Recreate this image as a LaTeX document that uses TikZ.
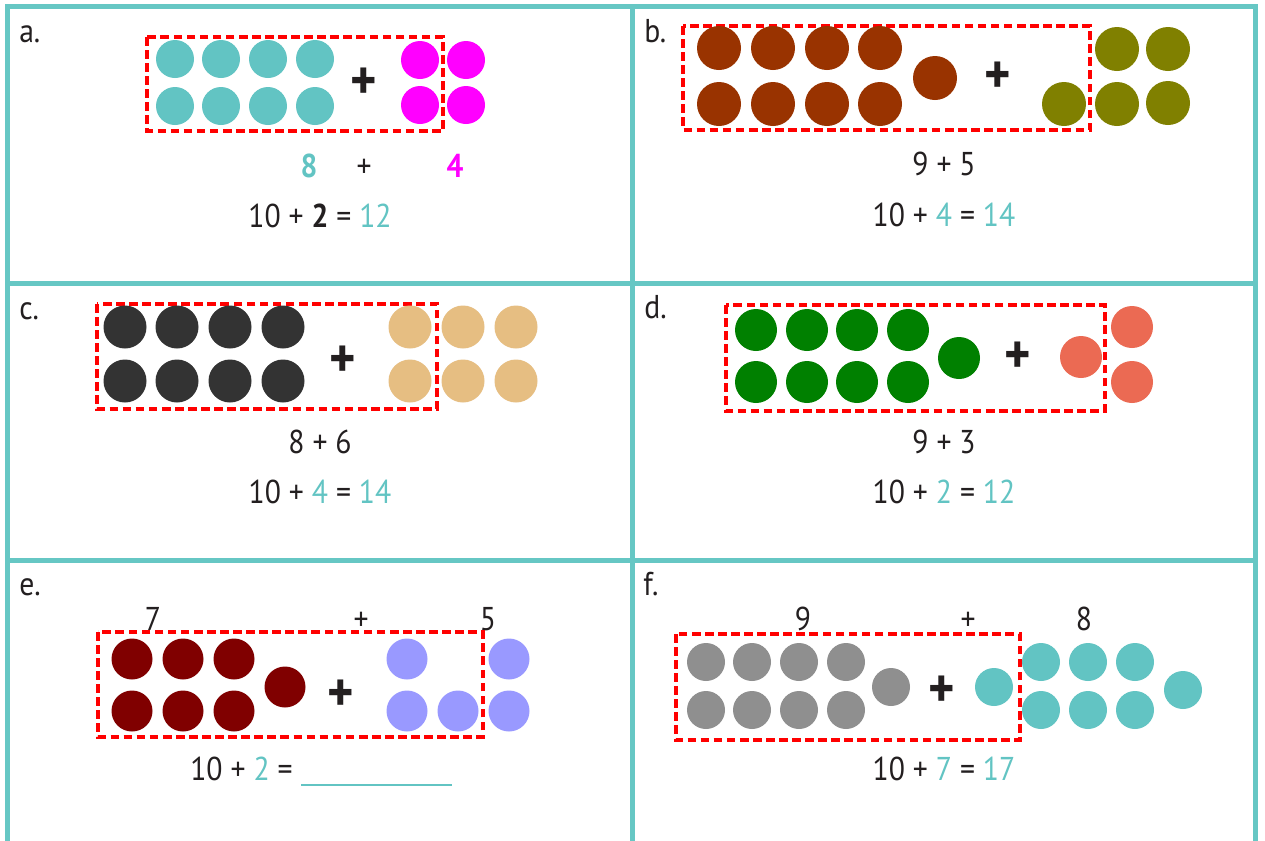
\documentclass[tikz,border=0pt]{standalone}
\usepackage{fontspec}
\setmainfont{PT Sans}[FakeStretch=0.9]
\definecolor{tealc}{HTML}{62C4C3}
\definecolor{gridc}{HTML}{66C7C4}
\definecolor{ink}{HTML}{231F20}
\definecolor{magc}{HTML}{FF00FF}
\definecolor{brownc}{HTML}{993300}
\definecolor{olivec}{HTML}{808000}
\definecolor{darkc}{HTML}{333333}
\definecolor{tanc}{HTML}{E6BE82}
\definecolor{greenc}{HTML}{008000}
\definecolor{salmonc}{HTML}{EB6A53}
\definecolor{maroonc}{HTML}{800000}
\definecolor{lavc}{HTML}{9999FF}
\definecolor{grayc}{HTML}{8F8F8F}
\newcommand\mainsz{\fontsize{24.75}{28}\selectfont}
\newcommand\plsz{\fontsize{42}{42}\selectfont\bfseries}
\begin{document}
\begin{tikzpicture}[x=0.75pt,y=-0.75pt,
  dot/.style={circle, fill=#1, draw=none, inner sep=0pt},
  ds/.style={minimum size=#1*0.75pt},
  gridline/.style={draw=gridc, line width=3.75pt},
  tenbox/.style={draw=red, line width=2.6pt, dash pattern=on 6.5pt off 3.3pt},
  txt/.style={anchor=base, inner sep=0pt, text=ink, font=\mainsz},
  tag/.style={anchor=base west, inner sep=0pt, text=ink, font=\mainsz},
  bigplus/.style={inner sep=0pt, text=ink, font=\plsz},
  blank/.style={draw=tealc, line width=1.5pt}]
\useasboundingbox (0,0) rectangle (1265,840);
\fill[white] (0,0) rectangle (1265,840);
% grid
\draw[gridline] (7,845) -- (7,6.5) -- (1255.5,6.5) -- (1255.5,845);
\draw[gridline] (632,6.5) -- (632,845);
\draw[gridline] (7,283.5) -- (1255.5,283.5);
\draw[gridline] (7,560.5) -- (1255.5,560.5);
% ---------------- a
\node[tag] (la) at (19,42) {a.};
\draw[tenbox] (147,37) rectangle (443,131);
\foreach \x [count=\i] in {175,221,268,315} {
  \node[dot=tealc, ds=38] (a-t\i) at (\x,59) {};
  \node[dot=tealc, ds=38] (a-b\i) at (\x,106) {};
}
\foreach \x [count=\i] in {420,466} {
  \node[dot=magc, ds=38] (a-mt\i) at (\x,60) {};
  \node[dot=magc, ds=38] (a-mb\i) at (\x,105) {};
}
\node[bigplus] (a-plus) at (364,84) {+};
\node[txt, text=tealc, font=\mainsz\bfseries] (a-n1) at (309,177) {8};
\node[txt] (a-p) at (364,177) {+};
\node[txt, text=magc, font=\mainsz\bfseries] (a-n2) at (455,177) {4};
\node[txt] (a-eq) at (320,227) {10 + \textbf{2} = \textcolor{tealc}{12}};
% ---------------- b
\node[tag] (lb) at (644,42) {b.};
\draw[tenbox] (683,26) rectangle (1090,130);
\foreach \x [count=\i] in {719,773,827,880} {
  \node[dot=brownc, ds=44] (b-t\i) at (\x,48) {};
  \node[dot=brownc, ds=44] (b-b\i) at (\x,104) {};
}
\node[dot=brownc, ds=44] (b-9) at (935,78) {};
\node[bigplus] (b-plus) at (998,78) {+};
\node[dot=olivec, ds=44] (b-o1) at (1064,104) {};
\node[dot=olivec, ds=44] (b-o2) at (1117,49) {};
\node[dot=olivec, ds=44] (b-o3) at (1168,49) {};
\node[dot=olivec, ds=44] (b-o4) at (1117,104) {};
\node[dot=olivec, ds=44] (b-o5) at (1168,103) {};
\node[txt] (b-sum) at (944,175) {9 + 5};
\node[txt] (b-eq) at (944,226) {10 + \textcolor{tealc}{4} = \textcolor{tealc}{14}};
% ---------------- c
\node[tag] (lc) at (19,319) {c.};
\draw[tenbox] (97,304) rectangle (437,409);
\foreach \x [count=\i] in {125,177,230,283} {
  \node[dot=darkc, ds=43] (c-t\i) at (\x,327) {};
  \node[dot=darkc, ds=43] (c-b\i) at (\x,381) {};
}
\node[bigplus] (c-plus) at (343,362) {+};
\foreach \x [count=\i] in {410,463,516} {
  \node[dot=tanc, ds=43] (c-ut\i) at (\x,327) {};
  \node[dot=tanc, ds=43] (c-ub\i) at (\x,381) {};
}
\node[txt] (c-sum) at (320,453) {8 + 6};
\node[txt] (c-eq) at (320,503) {10 + \textcolor{tealc}{4} = \textcolor{tealc}{14}};
% ---------------- d
\node[tag] (ld) at (644,318) {d.};
\draw[tenbox] (726,305) rectangle (1105,411);
\foreach \x [count=\i] in {756,807,857,908} {
  \node[dot=greenc, ds=42] (d-t\i) at (\x,330) {};
  \node[dot=greenc, ds=42] (d-b\i) at (\x,382) {};
}
\node[dot=greenc, ds=42] (d-9) at (959,358) {};
\node[bigplus] (d-plus) at (1018,358) {+};
\node[dot=salmonc, ds=42] (d-s1) at (1081,357) {};
\node[dot=salmonc, ds=42] (d-s2) at (1132,327) {};
\node[dot=salmonc, ds=42] (d-s3) at (1132,382) {};
\node[txt] (d-sum) at (944,453) {9 + 3};
\node[txt] (d-eq) at (944,503) {10 + \textcolor{tealc}{2} = \textcolor{tealc}{12}};
% ---------------- e
\node[tag] (le) at (19,595) {e.};
\node[txt] (e-n1) at (153,630) {7};
\node[txt] (e-p) at (361,630) {+};
\node[txt] (e-n2) at (488,630) {5};
\draw[tenbox] (98,632) rectangle (483,737);
\foreach \x [count=\i] in {132,183,234} {
  \node[dot=maroonc, ds=41] (e-t\i) at (\x,659) {};
  \node[dot=maroonc, ds=41] (e-b\i) at (\x,711) {};
}
\node[dot=maroonc, ds=41] (e-7) at (285,687) {};
\node[bigplus] (e-plus) at (341,696) {+};
\node[dot=lavc, ds=41] (e-l1) at (407,659) {};
\node[dot=lavc, ds=41] (e-l2) at (407,711) {};
\node[dot=lavc, ds=41] (e-l3) at (458,711) {};
\node[dot=lavc, ds=41] (e-l4) at (509,659) {};
\node[dot=lavc, ds=41] (e-l5) at (509,711) {};
\node[tag] (e-eq) at (190,780) {10 + \textcolor{tealc}{2} =};
\coordinate (e-bl) at (301,785);
\coordinate (e-br) at (452,785);
\draw[blank] (e-bl) -- (e-br);
% ---------------- f
\node[tag] (lf) at (643,595) {f.};
\node[txt] (f-n1) at (803,630) {9};
\node[txt] (f-p) at (968,630) {+};
\node[txt] (f-n2) at (1084,630) {8};
\draw[tenbox] (676,634) rectangle (1020,740);
\foreach \x [count=\i] in {706,752,799,846} {
  \node[dot=grayc, ds=38] (f-t\i) at (\x,662) {};
  \node[dot=grayc, ds=38] (f-b\i) at (\x,710) {};
}
\node[dot=grayc, ds=38] (f-9) at (891,687) {};
\node[bigplus] (f-plus) at (942,692) {+};
\node[dot=tealc, ds=38] (f-u0) at (994,687) {};
\foreach \x [count=\i] in {1041,1088,1135} {
  \node[dot=tealc, ds=38] (f-ut\i) at (\x,662) {};
  \node[dot=tealc, ds=38] (f-ub\i) at (\x,710) {};
}
\node[dot=tealc, ds=38] (f-u8) at (1183,690) {};
\node[txt] (f-eq) at (944,780) {10 + \textcolor{tealc}{7} = \textcolor{tealc}{17}};
\end{tikzpicture}
\end{document}
